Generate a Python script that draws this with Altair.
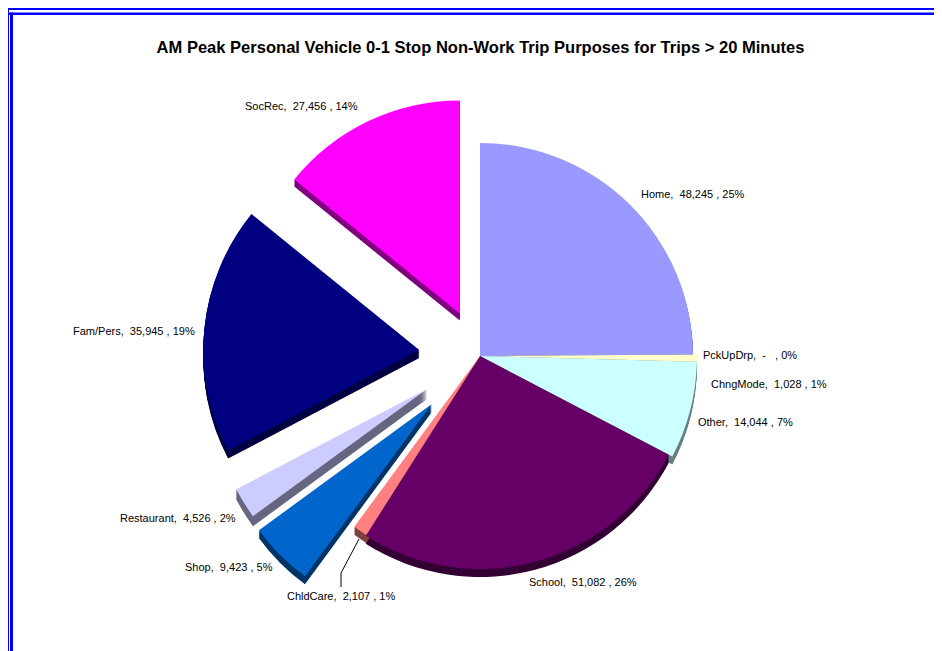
import math
import altair as alt
import pandas as pd

title_text = "AM Peak Personal Vehicle 0-1 Stop Non-Work Trip Purposes for Trips > 20 Minutes"
categories = ["Home", "PckUpDrp", "ChngMode", "Other", "School", "ChldCare", "Shop", "Restaurant", "Fam/Pers", "SocRec"]
values = [48245, 0, 1028, 14044, 51082, 2107, 9423, 4526, 35945, 27456]
percents = [25, 0, 1, 7, 26, 1, 5, 2, 19, 14]
shown = ["48,245", "-\u00a0\u00a0", "1,028", "14,044", "51,082", "2,107", "9,423", "4,526", "35,945", "27,456"]

# styling / layout, separate from the values
colors = ["#9999FF", "#FFFFFF", "#FFFFCC", "#CCFFFF", "#660066", "#FF8080", "#0066CC", "#CCCCFF", "#000080", "#FF00FF"]
sides = ["#4D4D80", "#808080", "#808066", "#668080", "#330033", "#804040", "#003366", "#666680", "#000040", "#800080"]
explode = [0, 0, 0, 0, 0, 0, 68, 62, 61, 47]
radii = [213, 217, 217, 217, 213, 212, 214, 216, 216, 213]
depths = [8, 8, 8, 8, 8, 8, 8, 10, 8, 7]
label_x = [641, 703, 711, 698, 529, 287, 185, 120, 73, 245]
label_y = [195, 356, 385, 423, 583, 597, 568, 519, 332, 107]
pie_cx, pie_cy = 480, 356
leader_x = [359, 341, 341]
leader_y = [539, 573, 587]
H = 643
W = 926
bottom = 8 + H
right = 8 + W
frame_x = [8, 10, 8, 8]
frame_x2 = [9, 13, right, right]
frame_y = [8, 12.5, 8, 12.5]
frame_y2 = [bottom, bottom, 10, 15]

total = sum(values)
rows, start = [], 0
for i, c in enumerate(categories):
    end = start + values[i]
    mid = (start + end) / 2 / total * 2 * math.pi
    rows.append(dict(cat=c, start=start, end=end, color=colors[i], side=sides[i], r=radii[i],
                     cx=pie_cx + explode[i] * math.sin(mid), cy=pie_cy - explode[i] * math.cos(mid),
                     depth=depths[i], lx=label_x[i], ly=label_y[i],
                     label=f"{c},\u00a0\u00a0{shown[i]} , {percents[i]}%"))
    start = end
df = pd.DataFrame(rows)
arcs = df[df["end"] > df["start"]]
side_df = pd.DataFrame([dict(r0, cy=r0["cy"] + d, order=d) for r0 in arcs.to_dict("records")
                        for d in range(1, r0["depth"] + 1)])

xs = alt.Scale(domain=[8, 8 + W], range=[0, W], nice=False, zero=False)
ys = alt.Scale(domain=[8, 8 + H], range=[0, H], nice=False, zero=False)
ts = alt.Scale(domain=[0, total], range=[0, 2 * math.pi])
X = lambda f: alt.X(f, type="quantitative", scale=xs, axis=None)
Y = lambda f: alt.Y(f, type="quantitative", scale=ys, axis=None)

side_layer = alt.Chart(side_df).mark_arc().encode(
    x=X("cx"), y=Y("cy"),
    theta=alt.Theta("start:Q", scale=ts), theta2="end:Q",
    radius=alt.Radius("r:Q", scale=None),
    color=alt.Color("side:N", scale=None),
)
top_layer = alt.Chart(arcs).mark_arc().encode(
    x=X("cx"), y=Y("cy"),
    theta=alt.Theta("start:Q", scale=ts), theta2="end:Q",
    radius=alt.Radius("r:Q", scale=None),
    color=alt.Color("color:N", scale=None),
)
labels = alt.Chart(df).mark_text(align="left", baseline="middle", font="Liberation Sans", fontSize=11, color="#000000").encode(
    x=X("lx"), y=Y("ly"), text="label:N")
leader = alt.Chart(pd.DataFrame(dict(x=leader_x, y=leader_y, o=[0, 1, 2]))).mark_line(color="#000000", strokeWidth=1).encode(
    x=X("x"), y=Y("y"), order="o:Q")
frame = alt.Chart(pd.DataFrame(dict(x=frame_x, x2=frame_x2, y=frame_y, y2=frame_y2))).mark_rect(color="#0000FF").encode(
    x=X("x"), x2="x2:Q", y=Y("y"), y2="y2:Q")
title = alt.Chart(pd.DataFrame(dict(x=[480.5], y=[48], t=[title_text]))).mark_text(
    align="center", baseline="middle", font="Liberation Sans", fontSize=16.55, fontWeight="bold", color="#000000").encode(
    x=X("x"), y=Y("y"), text="t:N")

chart = alt.layer(frame, side_layer, top_layer, leader, labels, title).properties(
    width=W, height=H, padding=0, autosize=alt.AutoSizeParams(type="none"), background="#FFFFFF"
).configure_view(stroke=None)
chart.save("out.html", embed_options={"renderer": "svg", "actions": False})
